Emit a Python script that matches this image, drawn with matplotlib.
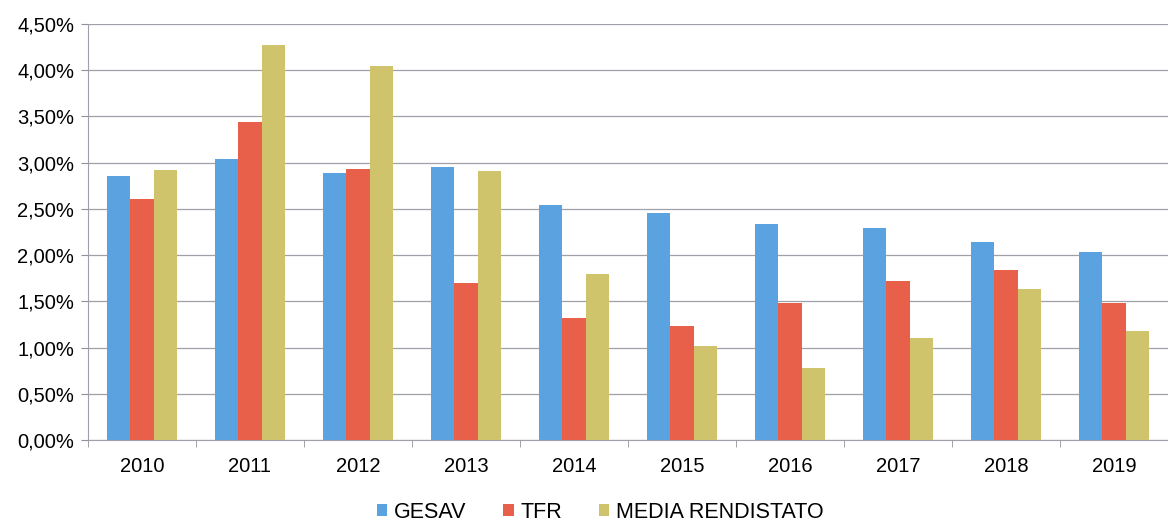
import numpy as np
import matplotlib
matplotlib.use("Agg")
import matplotlib.pyplot as plt
from matplotlib.ticker import FuncFormatter, FixedLocator

# --- data (percent) ---
years = ["2010", "2011", "2012", "2013", "2014", "2015", "2016", "2017", "2018", "2019"]
gesav = [2.86, 3.04, 2.89, 2.95, 2.54, 2.45, 2.34, 2.29, 2.14, 2.03]
tfr = [2.61, 3.44, 2.93, 1.70, 1.32, 1.23, 1.48, 1.72, 1.84, 1.48]
media_rendistato = [2.92, 4.27, 4.05, 2.91, 1.80, 1.02, 0.78, 1.10, 1.63, 1.18]

series = [
    ("GESAV", gesav, "#5ba3e0"),
    ("TFR", tfr, "#e8604a"),
    ("MEDIA RENDISTATO", media_rendistato, "#cfc46c"),
]

plt.rcParams["font.family"] = ["Liberation Sans", "DejaVu Sans"]

fig = plt.figure(figsize=(11.68, 5.21), dpi=100)
ax = fig.add_axes([0.0753, 0.1555, 0.9247, 0.7985])

x = np.arange(len(years))
width = 0.215
for i, (name, vals, col) in enumerate(series):
    ax.bar(x + (i - 1) * width, vals, width, color=col, label=name, zorder=3)

ax.set_xlim(-0.5, len(years) - 0.5)
ax.set_ylim(0, 4.5)
ax.set_yticks(np.arange(0, 4.51, 0.5))
ax.yaxis.set_major_formatter(FuncFormatter(lambda v, _: f"{v:.2f}%".replace(".", ",")))
ax.grid(axis="y", color="#a0a0a8", linewidth=0.9, zorder=0)

# category labels centred, tick marks between groups
ax.set_xticks(x)
ax.set_xticklabels(years)
ax.tick_params(axis="x", length=0, labelsize=14.5, pad=12)
ax.xaxis.set_minor_locator(FixedLocator(np.arange(-0.5, len(years), 1.0)))
ax.tick_params(axis="x", which="minor", length=5, color="#909098")
ax.tick_params(axis="y", length=5, color="#909098", labelsize=14.5, pad=5)

for side in ["top", "right"]:
    ax.spines[side].set_visible(False)
ax.spines["left"].set_color("#a0a0a8")
ax.spines["bottom"].set_color("#a0a0a8")

fig.legend(*ax.get_legend_handles_labels(), loc="center",
           bbox_to_anchor=(600 / 1168, 1 - 512 / 521), ncol=3, frameon=False,
           fontsize=15.5, handlelength=0.5, handleheight=0.5, handletextpad=0.3,
           columnspacing=1.7, borderpad=0.1)

fig.savefig("out.png", dpi=100)
